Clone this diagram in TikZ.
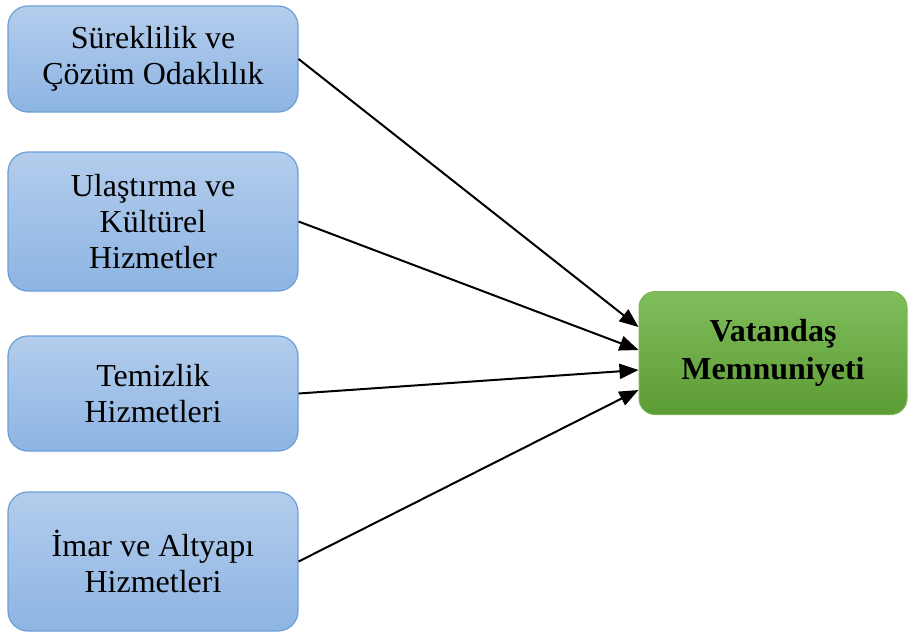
\documentclass[tikz,border=0pt]{standalone}
\usepackage{fontspec}
\setmainfont{Liberation Serif}
\usetikzlibrary{arrows.meta}
\definecolor{blueTop}{HTML}{B3CDEC}
\definecolor{blueBot}{HTML}{8DB4E3}
\definecolor{blueLine}{HTML}{6A9FD6}
\definecolor{greenTop}{HTML}{80BD5C}
\definecolor{greenBot}{HTML}{5C9C34}
\definecolor{greenLine}{HTML}{7AB55A}
\tikzset{
  factor/.style={draw=blueLine, line width=1.2pt, rounded corners=20pt,
    top color=blueTop, bottom color=blueBot, minimum width=290pt,
    align=center, font=\fontsize{32}{36}\selectfont, inner sep=0pt},
  outcome/.style={draw=greenLine, line width=1pt, rounded corners=16pt,
    top color=greenTop, bottom color=greenBot, minimum width=268pt, minimum height=123pt,
    align=center, font=\fontsize{32}{38}\selectfont\bfseries, inner sep=0pt},
  link/.style={line width=2pt, -{Triangle[length=19pt,width=15pt]}}
}
\begin{document}
\begin{tikzpicture}[x=1pt,y=-1pt]
  \useasboundingbox (0,0) rectangle (908,633);
  \node[factor, minimum height=106pt] (b1) at (153,59) {Süreklilik ve\\Çözüm Odaklılık};
  \node[factor, minimum height=139pt] (b2) at (153,221.5) {Ulaştırma ve\\Kültürel\\Hizmetler};
  \node[factor, minimum height=115pt] (b3) at (153,393.5) {Temizlik\\Hizmetleri};
  \node[factor, minimum height=139pt] (b4) at (153,561.5) {İmar ve Altyapı\\Hizmetleri};
  \node[outcome] (g) at (773,353) {Vatandaş\\Memnuniyeti};
  \draw[link] (b1.east) -- ([yshift=26pt]g.west);
  \draw[link] (b2.east) -- ([yshift=3pt]g.west);
  \draw[link] (b3.east) -- ([yshift=-17pt]g.west);
  \draw[link] (b4.east) -- ([yshift=-37pt]g.west);
\end{tikzpicture}
\end{document}
